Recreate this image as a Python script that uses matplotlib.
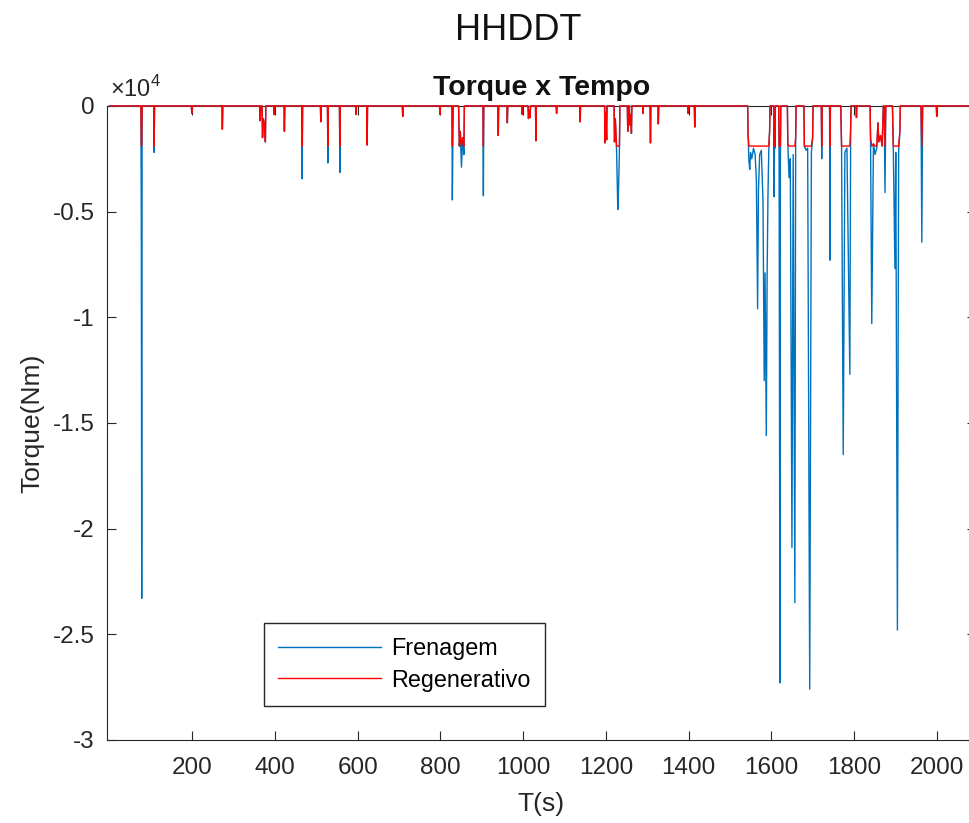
import numpy as np
import matplotlib.pyplot as plt
from matplotlib.ticker import FuncFormatter

plt.rcParams['font.family'] = ['Liberation Sans', 'DejaVu Sans']
plt.rcParams['mathtext.fontset'] = 'custom'
plt.rcParams['mathtext.rm'] = 'Liberation Sans'

# ciclo HHDDT - vertices (tempo em s, torque de frenagem em Nm)
time_s = [0,
          76, 77, 78, 79,
          107, 108, 109,
          198, 199, 200,
          272, 273, 274,
          363, 364, 366, 369, 370, 372, 375, 377, 378,
          397, 398, 399,
          422, 423, 424,
          465, 466, 467,
          510, 511, 512,
          527, 528, 529,
          556, 557, 558,
          595, 596, 597,
          622, 623, 624,
          708, 709, 710,
          798, 799, 800,
          828, 829, 831, 844, 846, 848, 851, 854, 857, 858,
          903, 904, 905,
          939, 940, 941,
          961, 962, 963,
          997, 998, 999,
          1012, 1013, 1015, 1017, 1018,
          1030, 1031, 1032,
          1080, 1081, 1082,
          1137, 1138, 1139,
          1197, 1198, 1200, 1202, 1203,
          1220, 1221, 1223, 1226, 1229, 1231, 1233, 1234,
          1252, 1253, 1255, 1257, 1258, 1260, 1262, 1263,
          1289, 1290, 1291,
          1307, 1308, 1309,
          1326, 1327, 1328,
          1398, 1399, 1400,
          1414, 1415, 1416,
          1543, 1544, 1546, 1548, 1550, 1553, 1557, 1561, 1564, 1567, 1569,
          1572, 1576, 1580, 1583, 1585, 1588, 1590, 1592, 1594, 1596, 1597,
          1606, 1607, 1608, 1609, 1610,
          1618, 1619, 1621, 1622, 1623,
          1639, 1640, 1643, 1646, 1650, 1653, 1657, 1659, 1660,
          1679, 1680, 1684, 1688, 1693, 1697, 1700, 1701,
          1721, 1722, 1723,
          1741, 1742, 1743,
          1768, 1770, 1774, 1778, 1783, 1790, 1792, 1793,
          1805, 1806, 1807,
          1839, 1840, 1843, 1847, 1851, 1855, 1858, 1860, 1864, 1868, 1871,
          1873, 1875, 1877,
          1893, 1895, 1899, 1901, 1905, 1908, 1911, 1912,
          1962, 1964, 1966,
          1999, 2000, 2001,
          2084]

torque_nm = [0,
             0, -5500, -23300, 0,
             0, -2200, 0,
             0, -350, 0,
             0, -1100, 0,
             0, -700, 0, 0, -1500, -600, -900, -1700, 0,
             0, -400, 0,
             0, -1200, 0,
             0, -3450, 0,
             0, -750, 0,
             0, -2700, 0,
             0, -3150, 0,
             0, -400, 0,
             0, -1850, 0,
             0, -500, 0,
             0, -400, 0,
             0, -4450, 0, 0, -1900, -1200, -2900, -1500, -2300, 0,
             0, -4250, 0,
             0, -1400, 0,
             0, -800, 0,
             0, -400, 0,
             0, -600, -200, -550, 0,
             0, -1650, 0,
             0, -350, 0,
             0, -750, 0,
             0, -1750, -300, -1600, 0,
             0, -1700, -600, -2100, -4900, -3800, -2000, 0,
             0, -1200, 0, 0, -900, -400, -1300, 0,
             0, -350, 0,
             0, -1750, 0,
             0, -850, 0,
             0, -350, 0,
             0, -1000, 0,
             0, -1400, -2600, -3000, -2200, -2500, -2000, -2300, -3500, -9600, -4000,
             -2300, -2100, -4500, -13000, -7900, -15600, -8000, -4300, -2100, -1200, 0,
             0, -4300, -1000, -2000, 0,
             0, -2500, -27300, -3000, 0,
             0, -1800, -3400, -2500, -20900, -2300, -23500, -1500, 0,
             0, -1900, -2100, -2000, -27600, -2200, -1500, 0,
             0, -2500, 0,
             0, -7300, 0,
             0, -1900, -16500, -2200, -2000, -12700, -1000, 0,
             0, -550, 0,
             0, -1500, -10300, -1800, -2300, -2000, -800, -1700, -1400, -1900, 0,
             0, -4100, 0,
             0, -1900, -7700, -2200, -24800, -2100, -1200, 0,
             0, -6450, 0,
             0, -500, 0,
             0]

regen_limit = -1900  # Nm, limite do freio regenerativo

t = np.array(time_s)
frenagem = np.array(torque_nm, dtype=float)
regenerativo = np.maximum(frenagem, regen_limit)

fig = plt.figure(figsize=(9.69, 8.23), dpi=100)
ax = fig.add_axes([0.1104, 0.1009, 0.8964, 0.7704])

ax.plot(t, frenagem, color='#0072BD', lw=1.0, label='Frenagem', zorder=3, clip_on=False)
ax.plot(t, regenerativo, color='red', lw=1.0, label='Regenerativo', zorder=4, clip_on=False)

ax.set_xlim(-6, 2094)
ax.set_ylim(-30000, 0)
ax.set_xticks(np.arange(200, 2001, 200))
ax.set_yticks(np.arange(-30000, 1, 5000))
ax.yaxis.set_major_formatter(FuncFormatter(lambda v, p: '%g' % (v / 1e4)))
ax.tick_params(direction='in', length=6.5, width=0.8, top=True, right=True,
               labelsize=17.5, colors='#262626')
ax.tick_params(axis='x', pad=12)
ax.tick_params(axis='y', pad=9)
for s in ax.spines.values():
    s.set_color('#262626')
    s.set_linewidth(0.8)

ax.annotate(r'$\times10^{4}$', xy=(0, 1), xycoords='axes fraction', xytext=(2, 3),
            textcoords='offset points', fontsize=17, color='#262626', va='bottom', ha='left')

ax.set_xlabel('T(s)', fontsize=19, color='#262626')
ax.xaxis.set_label_coords(0.5, -0.082)
ax.xaxis.label.set_va('top')
ax.set_ylabel('Torque(Nm)', fontsize=19, color='#262626')
ax.yaxis.set_label_coords(-0.0725, 0.5)

ax.set_title('Torque x Tempo', fontweight='bold', fontsize=20.5, pad=8, color='#111111')
fig.suptitle('HHDDT', x=0.5346, y=1 - 30 / 823, va='center', fontsize=26, color='#111111')

ax.legend(loc='upper left', bbox_to_anchor=(264 / 969, 1 - 623 / 823),
          bbox_transform=fig.transFigure, fontsize=16.8, handlelength=4.4,
          handletextpad=0.45, labelspacing=0.37, borderpad=0.6, fancybox=False,
          edgecolor='#262626', framealpha=1, borderaxespad=0)

fig.savefig('out.png', dpi=100)
